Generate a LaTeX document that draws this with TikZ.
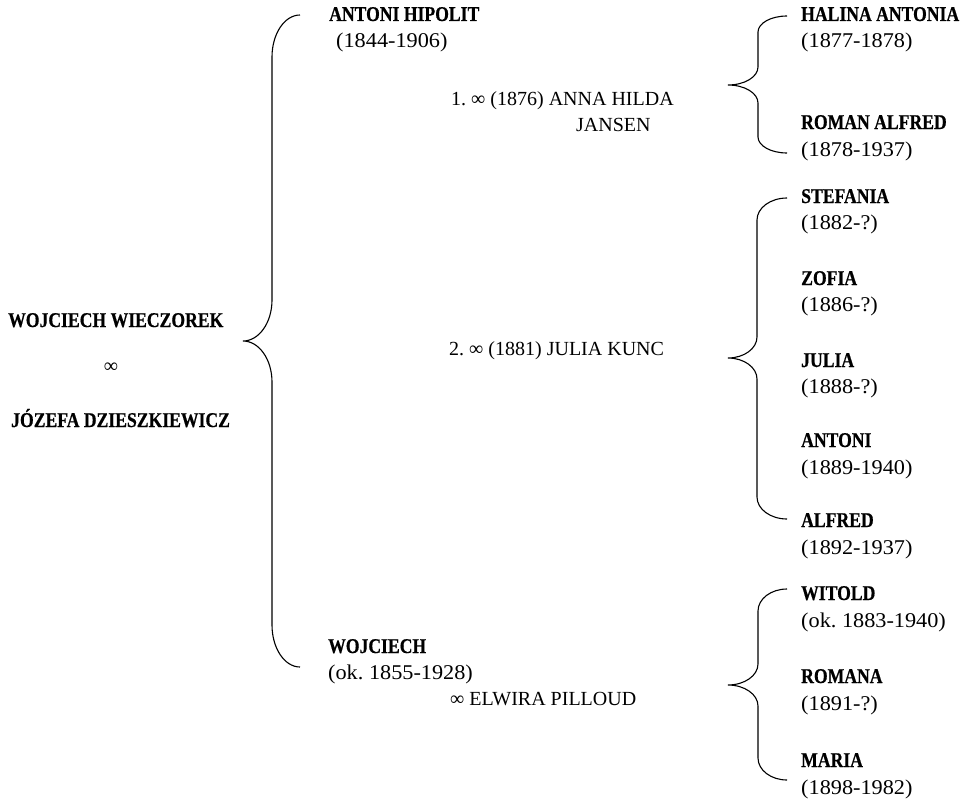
\documentclass[tikz,border=0pt]{standalone}
\usepackage{fontspec}
\setmainfont{Liberation Serif}
\newfontfamily\namefont{Liberation Serif}[FakeStretch=0.84,FakeBold=0.6]
\newfontfamily\datefont{Liberation Serif}[FakeStretch=1.06]
\frenchspacing
\newcommand\famBrace[8]{%
  \draw[bracestyle] (#1,#4)
    .. controls ({#1-0.552*(#1-#2)},#4) and (#2,{#4+0.448*#7}) .. (#2,{#4+#7})
    -- (#2,{#5-#8})
    .. controls (#2,{#5-0.448*#8}) and ({#3+0.552*(#2-#3)},#5) .. (#3,#5)
    .. controls ({#3+0.552*(#2-#3)},#5) and (#2,{#5+0.448*#8}) .. (#2,{#5+#8})
    -- (#2,{#6-#7})
    .. controls (#2,{#6-0.448*#7}) and ({#1-0.552*(#1-#2)},#6) .. (#1,#6);}
\tikzset{
  bracestyle/.style={line width=1.1pt, black},
  person/.style={anchor=base west, inner sep=0pt, font=\namefont\bfseries\fontsize{21}{24}\selectfont},
  dates/.style={anchor=base west, inner sep=0pt, font=\datefont\fontsize{21}{24}\selectfont},
  marriage/.style={anchor=base west, inner sep=0pt, font=\fontsize{20}{24}\selectfont},
}
\begin{document}
\begin{tikzpicture}[x=1pt,y=-1pt]
\useasboundingbox (0,0) rectangle (974,800);
% parents
\node[person] (p1) at (8,327) {WOJCIECH WIECZOREK};
\node[marriage, anchor=base] (pm) at (111,372) {∞};
\node[person] (p2) at (11,427) {JÓZEFA DZIESZKIEWICZ};
% big brace
\famBrace{300}{272}{243}{15}{341}{667}{42}{41}
% Antoni Hipolit
\node[person] (ah) at (329,21) {ANTONI HIPOLIT};
\node[dates] (ahd) at (336,48) {(1844-1906)};
\node[marriage] (m1) at (451,105) {1. ∞ (1876) ANNA HILDA};
\node[marriage] (m1b) at (576,131) {JANSEN};
\node[marriage] (m2) at (449,355) {2. ∞ (1881) JULIA KUNC};
% Wojciech
\node[person] (w) at (328,653) {WOJCIECH};
\node[dates] (wd) at (328,679) {(ok. 1855-1928)};
\node[marriage] (m3) at (450,705) {∞ ELWIRA PILLOUD};
% brace 2
\famBrace{787}{758}{728}{16}{85}{153}{16}{18}
\node[person] (c1) at (801,21) {HALINA ANTONIA};
\node[dates] (c1d) at (801,48) {(1877-1878)};
\node[person] (c2) at (801,129) {ROMAN ALFRED};
\node[dates] (c2d) at (801,156) {(1878-1937)};
% brace 3
\famBrace{787}{757}{728}{198}{358}{519}{22}{21}
\node[person] (c3) at (801,203) {STEFANIA};
\node[dates] (c3d) at (801,229) {(1882-?)};
\node[person] (c4) at (801,285) {ZOFIA};
\node[dates] (c4d) at (801,311) {(1886-?)};
\node[person] (c5) at (801,367) {JULIA};
\node[dates] (c5d) at (801,393) {(1888-?)};
\node[person] (c6) at (801,447) {ANTONI};
\node[dates] (c6d) at (801,474) {(1889-1940)};
\node[person] (c7) at (801,527) {ALFRED};
\node[dates] (c7d) at (801,554) {(1892-1937)};
% brace 4
\famBrace{787}{758}{728}{589}{685}{780}{22}{21}
\node[person] (c8) at (801,600) {WITOLD};
\node[dates] (c8d) at (801,627) {(ok. 1883-1940)};
\node[person] (c9) at (801,683) {ROMANA};
\node[dates] (c9d) at (801,710) {(1891-?)};
\node[person] (c10) at (801,767) {MARIA};
\node[dates] (c10d) at (801,794) {(1898-1982)};
\end{tikzpicture}
\end{document}
